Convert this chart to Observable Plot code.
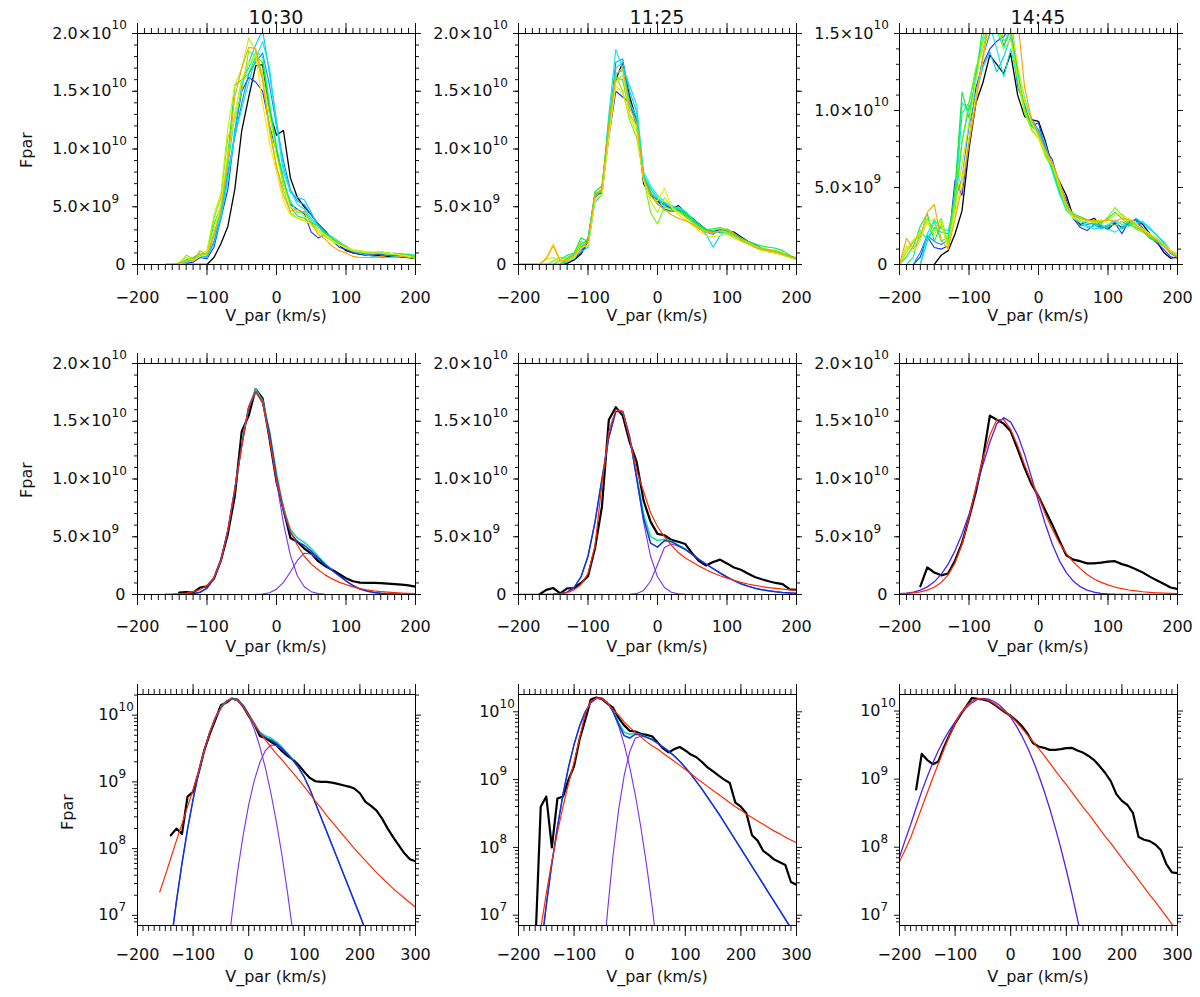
<!DOCTYPE html>
<html>
<head>
<meta charset="utf-8">
<script src="https://cdn.jsdelivr.net/npm/d3@7"></script>
<script src="https://cdn.jsdelivr.net/npm/@observablehq/plot@0.6"></script>
<style>
  body { margin: 0; background: #fff; }
  #fig { position: relative; width: 1200px; height: 997px; font-family: "DejaVu Sans", sans-serif; color: #111; }
  #fig svg { position: absolute; }
  .lbl { position: absolute; line-height: 1; white-space: nowrap; }
</style>
</head>
<body>
<div id="fig"></div>
<script>
// velocity grids (km/s)
const vTop = [-200,-190,-180,-170,-160,-150,-140,-130,-120,-110,-100,-90,-80,-70,-60,-50,-40,-30,-20,-10,
  0,10,20,30,40,50,60,70,80,90,100,110,120,130,140,150,160,170,180,190,200]
const vFit = [-200,-190,-180,-170,-160,-150,-140,-130,-120,-110,-100,-90,-80,-70,-60,-50,-40,-30,-20,-10,
  0,10,20,30,40,50,60,70,80,90,100,110,120,130,140,150,160,170,180,190,
  200,210,220,230,240,250,260,270,280,290,300]

const times = ["10:30", "11:25", "14:45"]
const scanColors = ["#000000", "#1a2cff", "#0a8cff", "#00c8ff", "#00e8e8", "#00f5a0", "#10e830", "#70f000", "#c0f000", "#f0e800", "#ffa000"]

// top row: Fpar in units of 1e9, one list per scan (first is black)
const scans1030 = [
  [null,null,null,null,0,0,0,0,0,0, 0,0.6,1.8,3.3,6.5,11.6,14.5,17.2,17.3,13.2, 11.2,11.6,7.5,5.8,5.0,4.3,3.5,2.9,2.2,1.7, 1.2,1.0,0.9,0.8,0.8,0.75,0.7,0.7,0.65,0.6, 0.5],
  [null,null,null,null,0,0,0,0.1,0.2,0.6, 0.5,1.5,4.0,6.5,11.5,15.0,16.2,15.8,15.0,12.0, 9.8,7.0,5.2,4.8,4.4,2.8,2.3,2.6,2.1,1.5, 1.3,1.0,0.9,0.8,0.8,0.9,0.8,0.8,0.8,0.8, 0.6],
  [null,null,null,null,0,0,0,0.2,0.3,0.8, 0.6,2.0,4.2,8.0,11.0,14.0,16.5,17.5,18.3,15.5, 12.0,9.0,6.5,5.5,5.2,4.3,3.5,2.9,2.2,1.8, 1.4,1.1,1.0,0.9,1.0,0.9,0.9,0.8,0.8,0.8, 0.7],
  [null,null,null,null,0,0,0,0.2,0.4,0.7, 0.7,1.8,4.0,7.5,11.5,15.5,17.5,19.0,20.3,16.5, 12.5,8.5,6.2,5.8,5.6,4.5,3.3,2.6,2.3,1.9, 1.6,1.2,1.0,0.8,0.7,0.6,0.6,0.7,0.7,0.8, 0.7],
  [null,null,null,null,0,0,0,0.1,0.5,0.7, 0.6,2.5,4.2,7.2,11.2,13.5,15.8,17.8,19.3,17.0, 12.0,8.0,6.4,5.2,4.8,4.0,3.3,2.7,2.4,2.0, 1.5,1.2,1.0,1.1,1.0,1.0,0.9,1.0,0.9,0.8, 0.7],
  [null,null,null,null,0,0,0,0.3,0.5,1.0, 0.8,2.8,4.5,8.5,13.0,16.0,17.0,18.4,18.0,14.0, 10.2,7.2,5.5,4.5,4.6,3.8,3.0,2.6,2.1,1.7, 1.4,1.2,1.1,1.0,1.0,1.1,1.0,0.9,0.9,0.9, 0.8],
  [null,null,null,null,0,0,0.1,0.4,0.6,0.9, 1.0,3.5,5.0,9.5,15.5,16.0,16.5,18.0,17.5,13.5, 10.0,7.5,5.0,4.2,4.0,3.6,3.4,2.7,2.2,1.8, 1.5,1.2,1.1,1.0,1.0,1.0,1.0,0.9,0.9,0.8, 0.7],
  [null,null,null,null,0,0,0.1,0.8,0.5,0.8, 1.0,4.0,5.8,11.0,12.5,15.0,18.5,18.0,16.0,12.0, 8.5,6.5,4.5,4.0,3.8,3.5,3.0,2.5,2.3,1.9, 1.5,1.2,1.1,1.0,1.0,1.1,1.0,0.9,0.9,0.8, 0.7],
  [null,null,null,null,0,0,0.2,0.6,0.4,0.9, 1.2,4.3,6.2,11.8,15.5,17.0,19.6,18.5,16.5,13.0, 9.5,7.0,5.0,4.6,4.2,3.4,2.8,2.4,2.0,1.7, 1.4,1.2,1.1,1.0,1.0,1.0,0.9,0.9,0.8,0.7, 0.6],
  [null,null,null,null,0,0,0,0.3,0.3,0.7, 0.9,3.0,5.2,9.5,13.0,16.0,17.5,18.2,14.0,10.5, 8.0,5.5,4.3,4.0,3.8,3.5,3.0,2.6,2.1,1.7, 1.5,1.3,1.2,1.1,1.1,1.1,1.0,0.9,0.8,0.7, 0.5],
  [null,null,null,0,0,0,0.1,0.3,0.3,1.2, 0.8,2.5,4.8,9.0,14.5,17.0,18.8,18.7,16.0,11.5, 8.5,6.0,4.6,4.8,4.5,3.6,2.6,2.2,1.6,1.2, 1.0,0.7,0.6,0.6,0.6,0.7,0.6,0.6,0.7,0.6, 0.6]
]
const scans1125 = [
  [0,0,0,0,0,0,0,0.1,0.4,0.9, 2.0,6.0,6.5,11.5,16.0,17.5,14.5,12.5,7.0,6.0, 5.5,5.2,4.8,5.1,4.5,4.0,3.5,3.0,2.8,2.8, 2.9,2.8,2.4,2.0,1.7,1.4,1.2,1.0,0.9,0.7, 0.5],
  [0,0,0,0,0,0,0,0.3,0.6,1.0, 2.2,6.0,6.2,11.0,15.0,14.5,14.0,12.0,7.5,6.0, 5.5,4.8,4.6,4.7,4.3,3.9,3.4,3.0,2.9,3.0, 2.8,2.5,2.3,2.0,1.6,1.3,1.1,1.0,0.9,0.7, 0.5],
  [0,0,0,0,0,0,0,0.5,0.8,1.2, 2.0,5.8,6.4,12.0,17.5,17.8,14.0,12.5,7.8,6.2, 5.6,5.3,4.9,4.7,4.2,3.6,3.1,2.8,2.6,3.0, 2.9,2.6,2.2,1.9,1.6,1.3,1.2,1.1,0.9,0.7, 0.6],
  [0,0,0,0,0,0,0,0.2,0.7,1.1, 1.5,5.4,6.0,11.5,17.0,17.5,15.0,13.2,7.6,6.5, 5.8,5.2,5.0,4.8,4.5,3.8,3.2,2.6,1.5,2.5, 3.0,2.7,2.3,2.0,1.7,1.4,1.2,1.0,0.9,0.7, 0.4],
  [0,0,0,0,0,0,0,0.3,0.5,1.5, 2.3,6.2,6.3,13.0,18.6,17.0,15.5,13.8,8.0,6.8, 6.0,5.4,5.1,4.9,4.6,3.9,3.3,2.9,2.7,2.9, 2.8,2.4,2.2,1.9,1.6,1.4,1.2,1.0,0.8,0.6, 0.5],
  [0,0,0,0,0,0,0,0.6,0.9,1.8, 2.1,5.9,6.5,12.5,16.5,16.8,14.0,12.8,7.7,6.6, 5.7,5.0,4.8,5.0,4.6,4.0,3.5,3.0,2.8,2.8, 2.7,2.3,2.1,1.8,1.5,1.3,1.2,1.1,1.0,0.7, 0.4],
  [0,0,0,0,0,0,0.4,0.8,1.0,2.3, 2.0,6.3,6.8,12.2,16.2,16.0,13.0,12.0,7.2,6.3, 5.3,4.7,4.6,4.8,4.4,3.8,3.4,3.0,3.1,3.2, 2.9,2.6,2.3,2.0,1.8,1.6,1.5,1.4,1.2,0.8, 0.5],
  [0,0,0,0,0,0.3,0.6,0.5,0.8,2.0, 1.8,6.0,6.5,11.8,16.3,15.0,12.5,11.0,7.5,4.5, 3.5,5.0,4.8,4.6,4.3,3.7,3.2,2.9,2.9,3.2, 3.0,2.5,2.2,1.9,1.6,1.4,1.3,1.2,1.0,0.7, 0.5],
  [0,0,0,0,0.5,0.6,0.2,0.4,0.7,1.6, 1.6,5.7,6.1,11.2,15.8,16.4,13.0,12.0,7.4,5.5, 4.5,5.8,5.0,4.5,4.1,3.6,3.1,2.8,2.7,2.9, 2.8,2.4,2.1,1.9,1.6,1.3,1.1,1.0,0.9,0.6, 0.4],
  [0,0,0,0,0.6,1.8,0.4,0.3,0.6,1.4, 1.7,5.6,6.0,11.0,15.5,14.8,12.8,11.5,7.3,5.8, 5.5,6.6,5.0,4.3,3.9,3.4,2.9,2.5,2.4,2.5, 2.6,2.3,2.0,1.8,1.5,1.2,1.1,1.0,0.8,0.6, 0.4],
  [0,0,0,0,0.5,1.6,0.3,0.4,0.8,1.5, 1.9,6.1,6.5,12.0,16.5,17.0,13.5,12.3,7.5,6.0, 5.2,4.8,4.3,4.0,3.8,3.5,3.1,2.8,2.7,2.9, 3.1,2.7,2.1,1.8,1.5,1.3,1.2,1.1,0.9,0.7, 0.5]
]
const scans1445 = [
  [null,null,null,null,null,0,0.6,0.9,2.0,3.5, 7.5,10.5,11.8,13.6,13.0,12.4,13.7,11.0,9.6,9.4, 9.3,8.0,6.3,5.4,4.5,3.1,2.6,2.8,3.0,2.5, 2.3,2.7,2.4,2.7,2.9,2.6,2.0,1.5,0.8,0.4, 0.5],
  [null,null,0,0.5,1.8,1.1,1.0,1.2,5.5,4.5, 8.0,11.5,13.0,14.0,14.5,14.8,15.5,12.0,10.3,9.0, 9.2,7.5,6.8,5.2,4.2,3.0,2.4,2.2,2.6,2.4, 2.5,2.7,2.0,2.8,2.9,2.2,1.8,1.4,1.0,0.5, 0.4],
  [null,null,0,0.8,1.9,1.5,1.3,1.6,4.2,5.6, 9.0,11.0,13.5,15.0,15.8,14.2,15.2,11.5,10.4,9.5, 8.7,7.6,6.5,5.0,4.0,3.2,2.5,2.6,2.7,2.5, 2.4,2.6,2.8,2.5,2.9,2.4,1.9,1.7,1.3,0.7, 0.5],
  [null,null,null,0,1.5,2.4,2.1,2.0,3.6,8.0, 10.2,11.0,12.8,13.8,12.5,13.5,14.8,12.5,10.0,9.0, 8.8,7.8,6.2,4.8,3.8,3.0,2.8,2.7,2.6,2.3, 2.5,2.8,2.3,2.6,3.0,2.7,2.3,1.9,1.4,0.8, 0.6],
  [null,0,0,0,2.0,2.9,2.3,2.2,4.0,9.8, 10.5,12.5,14.5,15.5,14.0,12.2,14.0,12.0,10.2,9.0, 8.6,7.4,6.0,4.6,3.6,3.2,2.9,2.5,2.3,2.4, 2.6,2.9,2.6,2.5,2.7,2.8,2.4,1.9,1.5,0.9, 0.6],
  [null,0,0.5,2.2,1.6,2.8,1.5,1.8,4.6,10.5, 10.0,12.0,14.8,16.5,15.2,14.0,15.8,12.8,10.8,9.3, 8.4,7.2,6.2,4.7,3.5,3.1,2.7,2.4,2.5,2.6, 2.3,2.1,2.4,2.8,2.5,2.2,1.8,1.5,1.2,0.8, 0.5],
  [0,0.5,1.2,2.5,3.3,1.5,2.6,1.2,5.0,11.2, 9.5,12.2,15.5,16.5,15.0,15.5,16.0,12.5,10.1,9.0, 8.5,7.0,6.3,4.9,3.8,3.3,3.1,2.9,2.8,2.7, 3.0,3.4,3.0,2.6,2.4,2.2,1.7,1.5,1.2,0.8, 0.6],
  [0,0.8,1.5,2.0,3.0,2.2,3.0,1.4,4.2,8.0, 10.5,12.8,14.0,15.8,16.5,14.5,15.0,12.0,9.8,8.8, 8.2,7.2,6.5,5.1,3.9,3.2,3.0,2.8,2.9,2.6, 3.1,3.7,3.2,2.7,2.3,2.1,1.8,1.6,1.3,0.9, 0.7],
  [0,1.2,0.8,1.6,2.8,1.9,2.8,1.0,3.8,6.5, 9.2,12.0,14.5,16.8,15.8,14.0,14.6,12.2,10.0,8.7, 8.2,7.0,6.4,5.0,3.7,3.0,2.8,2.8,2.7,2.8, 2.9,3.2,3.3,2.9,2.5,2.2,2.0,1.7,1.3,0.9, 0.6],
  [0,1.0,1.6,2.1,2.6,3.0,2.5,1.1,3.2,5.6, 8.2,11.0,13.2,16.0,16.5,16.0,15.5,13.0,10.6,9.2, 8.3,7.3,6.6,5.3,4.0,3.1,2.9,2.8,2.8,2.9, 2.7,2.5,2.8,3.0,2.7,2.3,2.0,1.6,1.2,0.8, 0.6],
  [0,1.7,1.0,1.8,3.4,3.9,1.6,1.0,3.0,5.0, 7.8,10.5,13.5,16.0,16.8,16.2,15.8,16.0,11.5,9.4, 8.5,7.4,6.6,5.4,3.9,3.2,3.0,2.9,2.8,2.8, 2.9,2.8,3.0,2.9,2.6,2.2,1.9,1.6,1.2,0.8, 0.5]
]

// middle and bottom rows: log10(Fpar) on vFit
const data1030 = [null,null,null,null,null,null,8.20,8.30,8.22,8.78, 8.85,9.14,9.47,9.72,9.93,10.15,10.19,10.25,10.23,10.13,
  9.99,9.87,9.69,9.66,9.60,9.55,9.46,9.39,9.33,9.25, 9.15,9.06,9.01,9.0,9.0,8.99,8.97,8.95,8.93,8.90,
  8.83,8.70,8.64,8.57,8.45,8.30,8.17,8.05,7.93,7.84, 7.81]
const kappa1030 = [null,null,null,null,7.35,7.60,7.86,8.12,8.37,8.63, 8.88,9.16,9.47,9.745,9.96,10.11,10.21,10.245,10.22,10.13,
  10.0,9.87,9.74,9.63,9.52,9.42,9.33,9.23,9.13,9.03, 8.93,8.82,8.71,8.61,8.50,8.40,8.30,8.20,8.10,8.00,
  7.91,7.82,7.73,7.64,7.56,7.48,7.40,7.33,7.26,7.19, 7.12]
const core1030 = [null,null,null,null,5.13,5.88,6.57,7.21,7.78,8.29, 8.74,9.14,9.47,9.745,9.96,10.11,10.21,10.245,10.22,10.14,
  9.99,9.79,9.53,9.21,8.83,8.39,7.89,7.33,6.71,6.03, 5.29,4.49,3.6,3,3,3,3,3,3,3,
  3,3,3,3,3,3,3,3,3,3, 3]
const beam1030 = [null,null,null,null,3,3,3,3,3,3, 3,3,3.5,4.0,4.53,5.45,6.28,7.01,7.655,8.20,
  8.66,9.02,9.29,9.47,9.553,9.545,9.49,9.41,9.32,9.21, 9.07,8.89,8.68,8.47,8.26,8.05,7.84,7.63,7.42,7.21,
  7.0,6.78,6.56,6.35,6.10,5.85,5.60,5.35,5.10,4.85, 4.6]
const sum1030 = [null,null,null,null,5.13,5.88,6.57,7.21,7.78,8.29, 8.74,9.14,9.47,9.745,9.96,10.11,10.21,10.245,10.221,10.145,
  10.01,9.858,9.728,9.66,9.628,9.574,9.50,9.413,9.32,9.21, 9.07,8.89,8.68,8.47,8.26,8.05,7.84,7.63,7.42,7.21,
  7.0,6.78,6.56,6.35,6.10,5.85,5.60,5.35,5.10,4.85, 4.6]
const green1030 = [null,null,null,null,null,null,null,null,null,null, null,null,null,null,null,10.12,10.21,10.25,10.225,10.15,
  10.02,9.875,9.75,9.69,9.655,9.60,9.52,9.425,9.33,null, null,null,null,null,null,null,null,null,null,null,
  null,null,null,null,null,null,null,null,null,null, null]

const data1125 = [null,null,null,6.5,8.6,8.75,8.0,8.72,8.75,9.0, 9.2,9.6,9.88,10.18,10.21,10.19,10.12,10.06,9.91,9.80,
  9.72,9.71,9.675,9.66,9.64,9.55,9.46,9.40,9.45,9.48, 9.43,9.37,9.33,9.26,9.18,9.12,9.06,9.0,8.95,8.66,
  8.60,8.50,8.18,8.10,7.95,7.89,7.82,7.78,7.74,7.49, 7.45]
const kappa1125 = [null,null,null,null,6.80,7.32,7.80,8.22,8.60,8.94, 9.26,9.62,9.98,10.15,10.205,10.20,10.13,10.03,9.95,9.85,
  9.77,9.70,9.63,9.56,9.50,9.45,9.39,9.33,9.27,9.21, 9.15,9.09,9.02,8.96,8.90,8.84,8.78,8.72,8.66,8.60,
  8.55,8.49,8.44,8.39,8.34,8.29,8.24,8.20,8.15,8.11, 8.07]
const core1125 = [3.08,4.03,4.91,5.73,6.47,7.15,7.76,8.30,8.78,9.185, 9.52,9.795,10.0,10.134,10.20,10.20,10.134,10.0,9.795,9.52,
  9.185,8.78,8.30,7.76,7.15,6.47,5.73,4.91,4.03,3.08, 3,3,3,3,3,3,3,3,3,3,
  3,3,3,3,3,3,3,3,3,3, 3]
const beam1125 = [3,3,3,3,3,3,3,3,3,3, 3,3,3,3.5,4.90,6.05,7.045,7.88,8.55,9.06,
  9.41,9.61,9.64,9.62,9.59,9.54,9.48,9.42,9.35,9.27, 9.18,9.08,8.97,8.86,8.74,8.62,8.50,8.37,8.24,8.11,
  7.98,7.85,7.72,7.59,7.46,7.33,7.20,7.07,6.94,6.81, 6.68]
const sum1125 = [3.08,4.03,4.91,5.73,6.47,7.15,7.76,8.30,8.78,9.185, 9.52,9.795,10.0,10.134,10.20,10.20,10.135,10.003,9.819,9.649,
  9.613,9.669,9.66,9.626,9.591,9.54,9.48,9.42,9.35,9.27, 9.18,9.08,8.97,8.86,8.74,8.62,8.50,8.37,8.24,8.11,
  7.98,7.85,7.72,7.59,7.46,7.33,7.20,7.07,6.94,6.81, 6.68]
const green1125 = [null,null,null,null,null,null,null,null,null,null, null,null,null,null,null,null,null,10.01,9.84,9.70,
  9.67,9.68,9.665,9.63,9.595,null,null,null,null,null, null,null,null,null,null,null,null,null,null,null,
  null,null,null,null,null,null,null,null,null,null, null]

const data1445 = [null,null,null,8.85,9.37,9.28,9.22,9.26,9.47,9.65, 9.82,9.95,10.07,10.19,10.18,10.17,10.15,10.10,10.04,9.98,
  9.93,9.86,9.78,9.67,9.53,9.48,9.46,9.43,9.43,9.44, 9.455,9.46,9.42,9.39,9.34,9.28,9.19,9.09,8.97,8.78,
  8.68,8.62,8.50,8.15,8.11,8.09,8.04,7.96,7.75,7.63, 7.62]
const kappa1445 = [7.79,7.96,8.14,8.36,8.58,8.80,9.02,9.23,9.44,9.64, 9.82,9.97,10.07,10.14,10.18,10.18,10.155,10.11,10.05,9.99,
  9.93,9.84,9.75,9.65,9.55,9.45,9.35,9.24,9.13,9.02, 8.92,8.81,8.70,8.59,8.49,8.38,8.27,8.16,8.06,7.95,
  7.84,7.73,7.63,7.52,7.41,7.30,7.20,7.09,6.98,6.87, 6.77]
const core1445 = [7.85,8.10,8.33,8.58,8.82,9.04,9.24,9.42,9.58,9.72, 9.84,9.96,10.05,10.12,10.17,10.185,10.174,10.14,10.084,10.006,
  9.905,9.782,9.636,9.468,9.278,9.065,8.83,8.572,8.292,7.99, 7.665,7.318,6.948,6.556,6.142,5.705,5.245,4.765,4.26,3.735,
  3.185,3,3,3,3,3,3,3,3,3, 3]

// axes
const xMajorTop = [-200, -100, 0, 100, 200]
const xMajorLog = [-200, -100, 0, 100, 200, 300]
const linTicks = [0, 5, 10, 15, 20]
const linMain = ["0", "5.0×10", "1.0×10", "1.5×10", "2.0×10"]
const linSup = ["", "9", "10", "10", "10"]
const logTicks = [0.01, 0.1, 1, 10]
const logMain = ["10", "10", "10", "10"]
const logSup = ["7", "8", "9", "10"]

const colLeft = [137, 518, 899]
const rowTop = [33, 363, 694]
const W = 278, H = 231
const mL = 100, mR = 20, mT = 20, mB = 50

const fig = d3.select('#fig')
const fmtX = d => (d < 0 ? '\u2212' + (-d) : String(d))
const blank = () => ''

function axes(xDomain, xMajor, yMajor, yMinor, pad) {
  const xMinor = d3.range(xDomain[0], xDomain[1] + 1, 10)
  return [
    Plot.axisX(xMinor, {anchor: 'bottom', tickSize: 6, tickFormat: blank, label: null}),
    Plot.axisX(xMajor, {anchor: 'bottom', tickSize: 11, tickPadding: pad, tickFormat: fmtX, label: null}),
    Plot.axisX(xMinor, {anchor: 'top', tickSize: 6, tickFormat: blank, label: null}),
    Plot.axisX(xMajor, {anchor: 'top', tickSize: 11, tickFormat: blank, label: null}),
    Plot.axisY(yMinor, {anchor: 'left', tickSize: 3, tickFormat: blank, label: null}),
    Plot.axisY(yMajor, {anchor: 'left', tickSize: 5, tickFormat: blank, label: null}),
    Plot.axisY(yMinor, {anchor: 'right', tickSize: 3, tickFormat: blank, label: null}),
    Plot.axisY(yMajor, {anchor: 'right', tickSize: 5, tickFormat: blank, label: null}),
    Plot.frame({stroke: 'black'})
  ]
}

// y tick labels: mantissa plus raised exponent
function linLabelMarks(maxY) {
  const idx = d3.range(linTicks.length).filter(i => linTicks[i] <= maxY)
  const withSup = idx.filter(i => linSup[i])
  const plain = idx.filter(i => !linSup[i])
  return [
    Plot.text(plain, {y: i => linTicks[i], text: i => linMain[i], frameAnchor: 'left', textAnchor: 'end', dx: -12, fontSize: 16}),
    Plot.text(withSup, {y: i => linTicks[i], text: i => linMain[i], frameAnchor: 'left', textAnchor: 'end', dx: -26, fontSize: 16}),
    Plot.text(withSup, {y: i => linTicks[i], text: i => linSup[i], frameAnchor: 'left', textAnchor: 'start', dx: -26, dy: -8, fontSize: 12})
  ]
}
function logLabelMarks() {
  const idx = d3.range(logTicks.length)
  return [
    Plot.text(idx, {y: i => logTicks[i], text: i => logMain[i], frameAnchor: 'left', textAnchor: 'end', dx: -19, fontSize: 16}),
    Plot.text(idx, {y: i => logTicks[i], text: i => logSup[i], frameAnchor: 'left', textAnchor: 'start', dx: -19, dy: -8, fontSize: 12})
  ]
}

function place(chart, col, row) {
  d3.select(chart).style('left', (colLeft[col] - mL) + 'px').style('top', (rowTop[row] - mT) + 'px')
  fig.append(() => chart)
}

const plotStyle = {fontFamily: '"DejaVu Sans", sans-serif', fontSize: '16px', background: 'transparent', overflow: 'visible', color: '#111'}

// top row: all scans
const topScans = [scans1030, scans1125, scans1445]
const topMax = [20, 20, 15]
topScans.forEach((scans, col) => {
  const marks = scans.map((ys, i) => Plot.line(
    vTop.map((v, j) => ({v, f: ys[j]})).filter(d => d.f != null),
    {x: 'v', y: 'f', stroke: scanColors[i], strokeWidth: i === 0 ? 1.3 : 1.1, clip: true}
  ))
  const yMajor = linTicks.filter(t => t <= topMax[col])
  const yMinor = d3.range(0, topMax[col] + 0.5, 1)
  place(Plot.plot({
    width: mL + W + mR, height: mT + H + mB,
    marginLeft: mL, marginRight: mR, marginTop: mT, marginBottom: mB,
    style: plotStyle,
    x: {domain: [-200, 200], label: null},
    y: {domain: [0, topMax[col]], label: null},
    marks: [...marks, ...axes([-200, 200], xMajorTop, yMajor, yMinor, 16), ...linLabelMarks(topMax[col])]
  }), col, 0)
})

// middle and bottom rows: data and fits (components under the total fit)
const fitSets = [
  [[data1030, '#000', 2.2], [core1030, '#7a30f0', 1.1], [beam1030, '#7a30f0', 1.1], [green1030, '#10e0a0', 1.6], [sum1030, '#0a36e0', 1.5], [kappa1030, '#ff2a00', 1.2]],
  [[data1125, '#000', 2.2], [core1125, '#7a30f0', 1.1], [beam1125, '#7a30f0', 1.1], [green1125, '#10e0a0', 1.6], [sum1125, '#0a36e0', 1.5], [kappa1125, '#ff2a00', 1.2]],
  [[data1445, '#000', 2.2], [core1445, '#5020f0', 1.3], [kappa1445, '#ff2a00', 1.2]]
]
const logDomains = [[0.00705, 20.4], [0.00705, 18.0], [0.00708, 17.5]]
const logMinor = [0.001, 0.01, 0.1, 1, 10].flatMap(b => [2, 3, 4, 5, 6, 7, 8, 9].map(k => +(k * b).toPrecision(3)))

fitSets.forEach((set, col) => {
  const lines = set.map(([ls, color, w]) => Plot.line(
    vFit.map((v, j) => ({v, f: ls[j] == null ? null : 10 ** (ls[j] - 9)})).filter(d => d.f != null),
    {x: 'v', y: 'f', stroke: color, strokeWidth: w, clip: true}
  ))
  place(Plot.plot({
    width: mL + W + mR, height: mT + H + mB,
    marginLeft: mL, marginRight: mR, marginTop: mT, marginBottom: mB,
    style: plotStyle,
    x: {domain: [-200, 200], label: null},
    y: {domain: [0, 20], label: null},
    marks: [...lines, ...axes([-200, 200], xMajorTop, linTicks, d3.range(0, 20.5, 1), 15), ...linLabelMarks(20)]
  }), col, 1)

  const dom = logDomains[col]
  place(Plot.plot({
    width: mL + W + mR, height: mT + H + mB,
    marginLeft: mL, marginRight: mR, marginTop: mT, marginBottom: mB,
    style: plotStyle,
    x: {domain: [-200, 300], label: null},
    y: {type: 'log', domain: dom, label: null},
    marks: [...lines, ...axes([-200, 300], xMajorLog, logTicks, logMinor.filter(t => t > dom[0] && t < dom[1]), 12), ...logLabelMarks()]
  }), col, 2)
})

// titles and axis labels
times.forEach((t, col) => {
  fig.append('div').attr('class', 'lbl').text(t)
    .style('left', (colLeft[col] + W / 2) + 'px').style('top', '8px')
    .style('font-size', '19px').style('transform', 'translateX(-50%)')
})
const xLabelTop = [308, 639, 969]
rowTop.forEach((_, row) => {
  colLeft.forEach(cl => {
    fig.append('div').attr('class', 'lbl').text('V_par (km/s)')
      .style('left', (cl + W / 2) + 'px').style('top', xLabelTop[row] + 'px')
      .style('font-size', '16px').style('transform', 'translateX(-50%)')
  })
})
const fparPos = [[27, 150], [27, 480], [68, 812]]
fparPos.forEach(([x, y]) => {
  fig.append('div').attr('class', 'lbl').text('Fpar')
    .style('left', x + 'px').style('top', y + 'px')
    .style('font-size', '16px').style('transform', 'translate(-50%, -50%) rotate(-90deg)')
})
</script>
</body>
</html>
